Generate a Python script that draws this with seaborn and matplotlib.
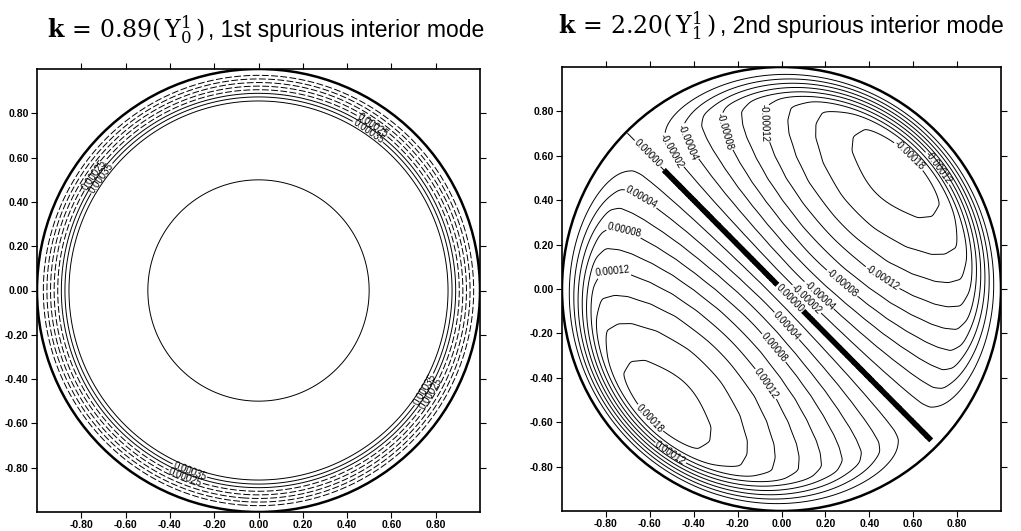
import numpy as np
import matplotlib
matplotlib.use("Agg")
import matplotlib.pyplot as plt
import seaborn as sns
from matplotlib.patches import Circle

# ---------------- data ----------------
tick_values = [-0.80, -0.60, -0.40, -0.20, 0.00, 0.20, 0.40, 0.60, 0.80]
tick_labels = ["-0.80", "-0.60", "-0.40", "-0.20", "0.00", "0.20", "0.40", "0.60", "0.80"]

# mode 1 (k = 0.89, Y0^1): radial profile of the field
mode1_radius = [0.00, 0.25, 0.50, 0.70, 0.84, 0.855, 0.985, 1.00]
mode1_value = [0.00048, 0.000473, 0.00045, 0.000428, 0.000415, 0.000408, 0.000008, 0.0]
mode1_levels = [0.00005, 0.00010, 0.00015, 0.00020, 0.00025, 0.00030, 0.00035, 0.00040, 0.00045]
mode1_labelled = {0.00025: [(-0.74, 0.52), (0.53, 0.77), (0.80, -0.48), (-0.34, -0.87)],
                  0.00035: [(-0.70, 0.50), (0.51, 0.74), (0.77, -0.46), (-0.32, -0.84)]}

# mode 2 (k = 2.20, Y1^1): radial amplitude, field = -amp(r) * cos(theta - 45deg)
mode2_radius = [0.00, 0.10, 0.20, 0.30, 0.40, 0.50, 0.60, 0.70, 0.76, 0.82, 0.86,
                0.90, 0.95, 0.985, 1.00]
mode2_amp = [0.0, 0.0000415, 0.000079, 0.000112, 0.00014, 0.000163, 0.000179,
             0.000189, 0.000191, 0.000188, 0.00017, 0.00012, 0.00005, 0.000004, 0.0]
mode2_axis_deg = 45.0
mode2_levels = [-0.00018, -0.00016, -0.00014, -0.00012, -0.00010, -0.00008, -0.00006,
                -0.00004, -0.00002, 0.00002, 0.00004, 0.00006, 0.00008, 0.00010,
                0.00012, 0.00014, 0.00016, 0.00018]
mode2_labelled = {
    -0.00002: [(-0.49, 0.63), (0.12, -0.04)],
    -0.00004: [(-0.43, 0.66), (0.18, -0.02)],
    -0.00008: [(-0.28, 0.70), (0.28, 0.03)],
    -0.00012: [(-0.12, 0.74), (0.46, 0.05), (0.72, 0.55)],
    -0.00018: [(0.66, 0.68)],
    0.00004: [(-0.64, 0.41), (0.02, -0.17)],
    0.00008: [(-0.71, 0.29), (-0.04, -0.27)],
    0.00012: [(-0.77, 0.13), (-0.06, -0.42), (-0.52, -0.76)],
    0.00018: [(-0.64, -0.62)],
}
zero_label_mid = (0.04, -0.04)
zero_label_edge = (-0.62, 0.60)

# ---------------- style ----------------
sns.set_style("ticks")
plt.rcParams["font.family"] = ["Liberation Sans", "DejaVu Sans"]
plt.rcParams["mathtext.fontset"] = "dejavuserif"
plt.rcParams["text.color"] = "black"

fig = plt.figure(figsize=(10.21, 5.31), dpi=100)
axL = fig.add_axes([37 / 1021, 19 / 531, 443 / 1021, 443 / 531])
axR = fig.add_axes([562 / 1021, 20 / 531, 439 / 1021, 444 / 531])

n = 501
g = np.linspace(-1.0, 1.0, n)
X, Y = np.meshgrid(g, g)
R = np.hypot(X, Y)
TH = np.arctan2(Y, X)
outside = R > 0.995

LW = 0.7
LFS = 7.0


def smooth_profile(radius, values):
    """piecewise-linear profile, lightly smoothed to avoid kinks"""
    rr = np.linspace(0, 1, 2001)
    vv = np.interp(rr, radius, values)
    k = 41
    pad = np.concatenate([np.full(k // 2, vv[0]), vv, np.full(k // 2, vv[-1])])
    vs = np.convolve(pad, np.ones(k) / k, mode="valid")
    return np.interp(R, rr, vs)


def style_axes(ax):
    ax.set_xlim(-1, 1)
    ax.set_ylim(-1, 1)
    ax.set_xticks(tick_values)
    ax.set_xticklabels(tick_labels, fontweight="bold")
    ax.set_yticks(tick_values)
    ax.set_yticklabels(tick_labels, fontweight="bold")
    ax.tick_params(axis="both", which="both", direction="out", length=4, width=0.8,
                   top=True, right=True, labeltop=False, labelright=False,
                   labelsize=7.5, pad=2, colors="black")
    for s in ax.spines.values():
        s.set_linewidth(1.2)
        s.set_color("black")
    ax.add_patch(Circle((0, 0), 1.0, fill=False, lw=1.8, ec="black", zorder=5))


def draw_levels(ax, F, levels, labelled, linestyle_fn, lw=LW):
    for lv in levels:
        cs = ax.contour(X, Y, F, levels=[lv], colors="black", linewidths=lw,
                        linestyles=[linestyle_fn(lv)])
        if lv in labelled:
            cs.clabel([lv], manual=labelled[lv], inline=True, inline_spacing=1,
                      fmt="%.5f", fontsize=LFS, colors="black")


# ---------- left panel ----------
F1 = smooth_profile(mode1_radius, mode1_value)
F1 = np.ma.masked_where(outside, F1)
draw_levels(axL, F1, mode1_levels, mode1_labelled,
            lambda lv: (0, (7, 2.5)) if lv <= 0.000251 else "solid")
style_axes(axL)

# ---------- right panel ----------
A2 = smooth_profile(mode2_radius, mode2_amp)
F2 = -A2 * np.cos(TH - np.deg2rad(mode2_axis_deg))
F2m = np.ma.masked_where(outside, F2)
draw_levels(axR, F2m, mode2_levels, mode2_labelled, lambda lv: "solid")

# zero contour: thick in the interior, thin near the upper-left rim
thick_mask = outside | (R > 0.965) | ((X < 0) & (R > 0.76))
cs0 = axR.contour(X, Y, np.ma.masked_where(thick_mask, F2), levels=[0.0],
                  colors="black", linewidths=4.0)
cs0.clabel([0.0], manual=[zero_label_mid], inline=True, inline_spacing=1,
           fmt="%.5f", fontsize=LFS, colors="black")
thin0_mask = outside | ~((X < 0) & (R > 0.755))
cs0b = axR.contour(X, Y, np.ma.masked_where(thin0_mask, F2), levels=[0.0],
                   colors="black", linewidths=LW)
cs0b.clabel([0.0], manual=[zero_label_edge], inline=True, inline_spacing=1,
            fmt="%.5f", fontsize=LFS, colors="black")
style_axes(axR)

# ---------- titles ----------
fig.text(47 / 1021, 1 - 37 / 531, r"$\mathbf{k}\,=\,\mathrm{0.89(\,Y_0^1\,)}$",
         fontsize=17, ha="left", va="baseline", color="black")
fig.text(208 / 1021, 1 - 37 / 531, ", 1st spurious interior mode",
         fontsize=16.5, ha="left", va="baseline", color="black")
fig.text(558 / 1021, 1 - 33 / 531, r"$\mathbf{k}\,=\,\mathrm{2.20(\,Y_1^1\,)}$",
         fontsize=17, ha="left", va="baseline", color="black")
fig.text(720 / 1021, 1 - 33 / 531, ", 2nd spurious interior mode",
         fontsize=16.5, ha="left", va="baseline", color="black")

fig.savefig("out.png", dpi=100, facecolor="white")
